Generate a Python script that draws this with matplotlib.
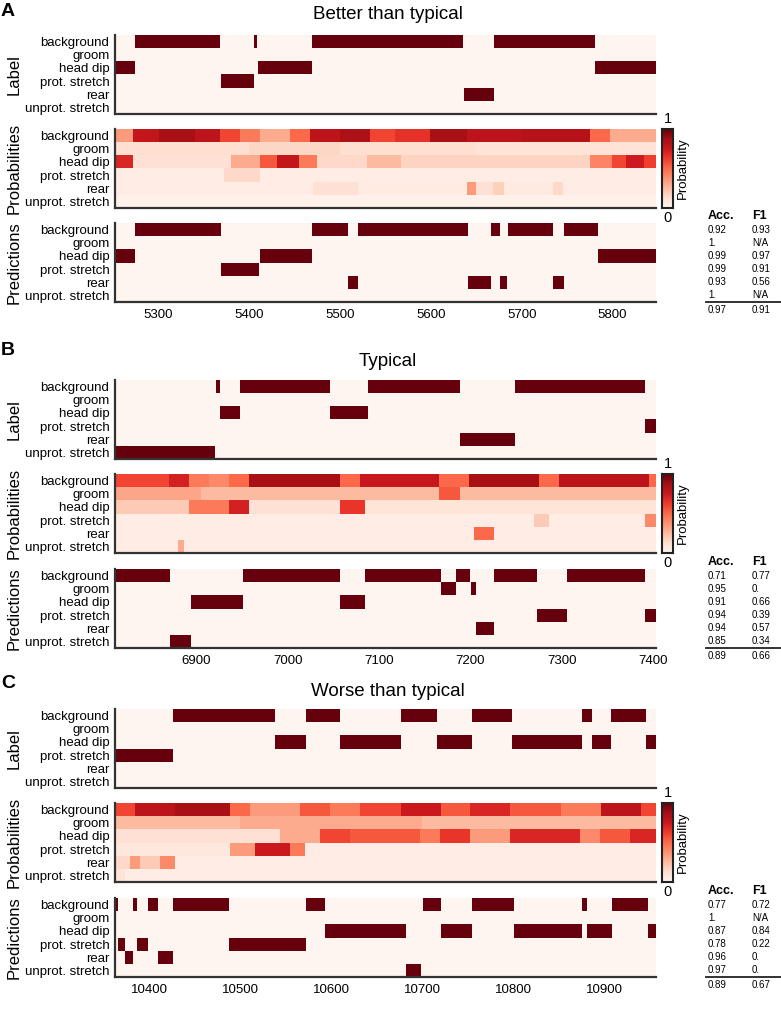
import numpy as np
import matplotlib
matplotlib.use("Agg")
import matplotlib.pyplot as plt

plt.rcParams['font.family'] = ['Liberation Sans', 'DejaVu Sans']

# ---------------- DATA ----------------
behaviors = ["background", "groom", "head dip", "prot. stretch", "rear", "unprot. stretch"]
titles = ["Better than typical", "Typical", "Worse than typical"]
panel_letters = ["A", "B", "C"]

frames_A = (5252, 5848)
frames_B = (6811, 7403)
frames_C = (10362, 10957)

ticks_A = [5300, 5400, 5500, 5600, 5700, 5800]
ticks_B = [6900, 7000, 7100, 7200, 7300, 7400]
ticks_C = [10400, 10500, 10600, 10700, 10800, 10900]

# Ground-truth label segments (start frame, end frame)
label_A = {
    "background": [(5274, 5368), (5405, 5408), (5469, 5635), (5670, 5781)],
    "groom": [],
    "head dip": [(5252, 5274), (5409, 5469), (5781, 5848)],
    "prot. stretch": [(5369, 5405)],
    "rear": [(5636, 5669)],
    "unprot. stretch": [],
}
label_B = {
    "background": [(6921, 6926), (6948, 7046), (7088, 7189), (7249, 7391)],
    "groom": [],
    "head dip": [(6926, 6948), (7046, 7088)],
    "prot. stretch": [(7391, 7403)],
    "rear": [(7189, 7249)],
    "unprot. stretch": [(6811, 6920)],
}
label_C = {
    "background": [(10426, 10538), (10572, 10610), (10676, 10716), (10755, 10799), (10876, 10887), (10908, 10946)],
    "groom": [],
    "head dip": [(10538, 10572), (10610, 10676), (10716, 10755), (10799, 10876), (10887, 10908), (10946, 10957)],
    "prot. stretch": [(10362, 10426)],
    "rear": [],
    "unprot. stretch": [],
}

# Predicted segments
pred_A = {
    "background": [(5274, 5369), (5469, 5509), (5520, 5641), (5666, 5676), (5685, 5735), (5747, 5784)],
    "groom": [],
    "head dip": [(5252, 5274), (5412, 5469), (5784, 5848)],
    "prot. stretch": [(5369, 5411)],
    "rear": [(5509, 5520), (5641, 5666), (5676, 5684), (5735, 5747)],
    "unprot. stretch": [],
}
pred_B = {
    "background": [(6811, 6871), (6951, 7057), (7085, 7168), (7184, 7200), (7226, 7273), (7306, 7391)],
    "groom": [(7168, 7184), (7201, 7206)],
    "head dip": [(6894, 6951), (7057, 7085)],
    "prot. stretch": [(7273, 7306), (7391, 7403)],
    "rear": [(7206, 7226)],
    "unprot. stretch": [(6871, 6894)],
}
pred_C = {
    "background": [(10362, 10365), (10382, 10386), (10398, 10409), (10426, 10487), (10572, 10593), (10701, 10720), (10755, 10801), (10876, 10881), (10909, 10948)],
    "groom": [],
    "head dip": [(10593, 10682), (10720, 10755), (10801, 10876), (10881, 10909), (10948, 10957)],
    "prot. stretch": [(10365, 10373), (10386, 10398), (10487, 10572)],
    "rear": [(10373, 10382), (10409, 10426)],
    "unprot. stretch": [(10682, 10699)],
}

# Probabilities as piecewise levels (start, end, probability)
prob_A = {
    "background": [(5252, 5272, 0.35), (5272, 5300, 0.78), (5300, 5340, 0.86), (5340, 5368, 0.8), (5368, 5390, 0.6),
                   (5390, 5412, 0.45), (5412, 5445, 0.3), (5445, 5467, 0.5), (5467, 5500, 0.8), (5500, 5533, 0.85),
                   (5533, 5560, 0.6), (5560, 5599, 0.66), (5599, 5640, 0.86), (5640, 5700, 0.8), (5700, 5775, 0.82),
                   (5775, 5797, 0.5), (5797, 5848, 0.3)],
    "groom": [(5252, 5400, 0.13), (5400, 5500, 0.16), (5500, 5650, 0.13), (5650, 5848, 0.11)],
    "head dip": [(5252, 5272, 0.7), (5272, 5380, 0.12), (5380, 5412, 0.3), (5412, 5430, 0.55), (5430, 5455, 0.78),
                 (5455, 5474, 0.45), (5474, 5530, 0.15), (5530, 5567, 0.25), (5567, 5775, 0.17), (5775, 5800, 0.42),
                 (5800, 5815, 0.6), (5815, 5835, 0.74), (5835, 5848, 0.62)],
    "prot. stretch": [(5252, 5372, 0.05), (5372, 5412, 0.15), (5412, 5848, 0.05)],
    "rear": [(5252, 5470, 0.05), (5470, 5520, 0.12), (5520, 5640, 0.06), (5640, 5650, 0.35), (5650, 5668, 0.12),
             (5668, 5680, 0.18), (5680, 5735, 0.07), (5735, 5745, 0.15), (5745, 5848, 0.05)],
    "unprot. stretch": [(5252, 5848, 0.03)],
}
prob_B = {
    "background": [(6811, 6870, 0.6), (6870, 6892, 0.72), (6892, 6914, 0.45), (6914, 6936, 0.4), (6936, 6958, 0.5),
                   (6958, 7057, 0.86), (7057, 7079, 0.5), (7079, 7166, 0.76), (7166, 7198, 0.5), (7198, 7275, 0.86),
                   (7275, 7297, 0.5), (7297, 7395, 0.8), (7395, 7403, 0.5)],
    "groom": [(6811, 6905, 0.32), (6905, 7166, 0.25), (7166, 7188, 0.55), (7188, 7403, 0.25)],
    "head dip": [(6811, 6892, 0.2), (6892, 6936, 0.45), (6936, 6958, 0.72), (6958, 7057, 0.12), (7057, 7085, 0.65),
                 (7085, 7403, 0.1)],
    "prot. stretch": [(6811, 7270, 0.05), (7270, 7286, 0.2), (7286, 7391, 0.05), (7391, 7403, 0.4)],
    "rear": [(6811, 7204, 0.05), (7204, 7226, 0.5), (7226, 7403, 0.05)],
    "unprot. stretch": [(6811, 6880, 0.05), (6880, 6886, 0.3), (6886, 7403, 0.05)],
}
prob_C = {
    "background": [(10362, 10384, 0.6), (10384, 10428, 0.8), (10428, 10488, 0.86), (10488, 10510, 0.5),
                   (10510, 10565, 0.35), (10565, 10598, 0.55), (10598, 10632, 0.45), (10632, 10676, 0.6),
                   (10676, 10720, 0.75), (10720, 10752, 0.55), (10752, 10796, 0.7), (10796, 10852, 0.55),
                   (10852, 10896, 0.45), (10896, 10940, 0.8), (10940, 10957, 0.6)],
    "groom": [(10362, 10500, 0.25), (10500, 10700, 0.3), (10700, 10957, 0.25)],
    "head dip": [(10362, 10543, 0.12), (10543, 10587, 0.3), (10587, 10620, 0.6), (10620, 10697, 0.55),
                 (10697, 10719, 0.45), (10719, 10752, 0.65), (10752, 10796, 0.35), (10796, 10873, 0.7),
                 (10873, 10895, 0.4), (10895, 10928, 0.55), (10928, 10957, 0.7)],
    "prot. stretch": [(10362, 10488, 0.08), (10488, 10516, 0.35), (10516, 10554, 0.75), (10554, 10571, 0.45),
                      (10571, 10957, 0.05)],
    "rear": [(10362, 10379, 0.15), (10379, 10390, 0.35), (10390, 10412, 0.2), (10412, 10428, 0.4), (10428, 10957, 0.05)],
    "unprot. stretch": [(10362, 10373, 0.1), (10373, 10957, 0.05)],
}

acc_A = ["0.92", "1.", "0.99", "0.99", "0.93", "1."]
f1_A = ["0.93", "N/A", "0.97", "0.91", "0.56", "N/A"]
summary_A = ("0.97", "0.91")
acc_B = ["0.71", "0.95", "0.91", "0.94", "0.94", "0.85"]
f1_B = ["0.77", "0.", "0.66", "0.39", "0.57", "0.34"]
summary_B = ("0.89", "0.66")
acc_C = ["0.77", "1.", "0.87", "0.78", "0.96", "0.97"]
f1_C = ["0.72", "N/A", "0.84", "0.22", "0.", "0."]
summary_C = ("0.89", "0.67")

# ---------------- LAYOUT ----------------
W, H = 781, 1022
fig = plt.figure(figsize=(W / 100, H / 100), dpi=100)
cmap = plt.get_cmap("Reds")
SPINE = "#333333"


def rect(x0, y0, x1, y1):
    return [x0 / W, 1 - y1 / H, (x1 - x0) / W, (y1 - y0) / H]


def binary_matrix(segs, frames):
    n = frames[1] - frames[0]
    m = np.zeros((len(behaviors), n))
    for r, b in enumerate(behaviors):
        for a, e in segs[b]:
            m[r, a - frames[0]:e - frames[0]] = 1.0
    return m


def level_matrix(segs, frames):
    n = frames[1] - frames[0]
    m = np.zeros((len(behaviors), n))
    for r, b in enumerate(behaviors):
        for a, e, v in segs[b]:
            m[r, a - frames[0]:e - frames[0]] = v
    return m


def draw_heat(ax, mat, frames, show_x, ticks):
    x = np.arange(frames[0], frames[1] + 1)
    y = np.arange(len(behaviors) + 1) - 0.5
    ax.pcolormesh(x, y, mat, cmap=cmap, vmin=0, vmax=1, shading="flat")
    ax.set_xlim(frames)
    ax.set_ylim(len(behaviors) - 0.5, -0.5)
    ax.set_yticks(range(len(behaviors)))
    ax.set_yticklabels(behaviors, fontsize=9.5)
    ax.tick_params(axis="y", length=0, pad=4)
    for s in ["top", "right"]:
        ax.spines[s].set_visible(False)
    for s in ["left", "bottom"]:
        ax.spines[s].set_color(SPINE)
        ax.spines[s].set_linewidth(1.6)
    if show_x:
        ax.set_xticks(ticks)
        ax.set_xticklabels([str(t) for t in ticks], fontsize=9.5)
        ax.tick_params(axis="x", length=0, pad=5)
    else:
        ax.set_xticks([])


panels = [
    dict(frames=frames_A, ticks=ticks_A, label=label_A, prob=prob_A, pred=pred_A,
         acc=acc_A, f1=f1_A, summ=summary_A, tops=(35, 129, 223), title_y=14, letter_y=12),
    dict(frames=frames_B, ticks=ticks_B, label=label_B, prob=prob_B, pred=pred_B,
         acc=acc_B, f1=f1_B, summ=summary_B, tops=(380, 474, 569), title_y=362, letter_y=350),
    dict(frames=frames_C, ticks=ticks_C, label=label_C, prob=prob_C, pred=pred_C,
         acc=acc_C, f1=f1_C, summ=summary_C, tops=(709, 803, 898), title_y=691, letter_y=683),
]

XL, XR = 115, 656
HGT = 79
for i, p in enumerate(panels):
    t_lab, t_prob, t_pred = p["tops"]
    ax1 = fig.add_axes(rect(XL, t_lab, XR, t_lab + HGT))
    draw_heat(ax1, binary_matrix(p["label"], p["frames"]), p["frames"], False, None)
    ax2 = fig.add_axes(rect(XL, t_prob, XR, t_prob + HGT))
    draw_heat(ax2, level_matrix(p["prob"], p["frames"]), p["frames"], False, None)
    ax3 = fig.add_axes(rect(XL, t_pred, XR, t_pred + HGT))
    draw_heat(ax3, binary_matrix(p["pred"], p["frames"]), p["frames"], True, p["ticks"])

    # row titles
    for t, name in zip((t_lab, t_prob, t_pred), ("Label", "Probabilities", "Predictions")):
        fig.text(14 / W, 1 - (t + HGT / 2) / H, name, rotation=90, ha="center", va="center", fontsize=12)

    # title and letter
    fig.text(388 / W, 1 - p["title_y"] / H, titles[i], ha="center", va="center", fontsize=13.5)
    fig.text(8 / W, 1 - p["letter_y"] / H, panel_letters[i], ha="center", va="center", fontsize=14, fontweight="bold")

    # colorbar
    cax = fig.add_axes(rect(662, t_prob, 673, t_prob + HGT))
    grad = np.linspace(0, 1, 256).reshape(-1, 1)
    cax.imshow(grad, aspect="auto", cmap=cmap, origin="lower", extent=(0, 1, 0, 1))
    cax.set_xticks([])
    cax.set_yticks([])
    for s in cax.spines.values():
        s.set_linewidth(1.5)
        s.set_color("#222222")
    fig.text(667.5 / W, 1 - (t_prob - 10) / H, "1", ha="center", va="center", fontsize=10.5)
    fig.text(667.5 / W, 1 - (t_prob + HGT + 10) / H, "0", ha="center", va="center", fontsize=10.5)
    fig.text(683 / W, 1 - (t_prob + HGT / 2) / H, "Probability", rotation=90, ha="center", va="center", fontsize=9.5)

    # table
    row_h = HGT / 6
    fig.text(708 / W, 1 - (t_pred - 7) / H, "Acc.", ha="left", va="center", fontsize=9, fontweight="bold")
    fig.text(752 / W, 1 - (t_pred - 7) / H, "F1", ha="left", va="center", fontsize=9, fontweight="bold")
    for r in range(6):
        yc = 1 - (t_pred + row_h * (r + 0.5)) / H
        fig.text(708 / W, yc, p["acc"][r], ha="left", va="center", fontsize=7)
        fig.text(752 / W, yc, p["f1"][r], ha="left", va="center", fontsize=7)
    yl = 1 - (t_pred + HGT) / H
    fig.add_artist(plt.Line2D([706 / W, 781 / W], [yl, yl], color="#222222", lw=1.3))
    ys = 1 - (t_pred + HGT + 8) / H
    fig.text(708 / W, ys, p["summ"][0], ha="left", va="center", fontsize=7)
    fig.text(752 / W, ys, p["summ"][1], ha="left", va="center", fontsize=7)

fig.savefig("out.png", dpi=100)
